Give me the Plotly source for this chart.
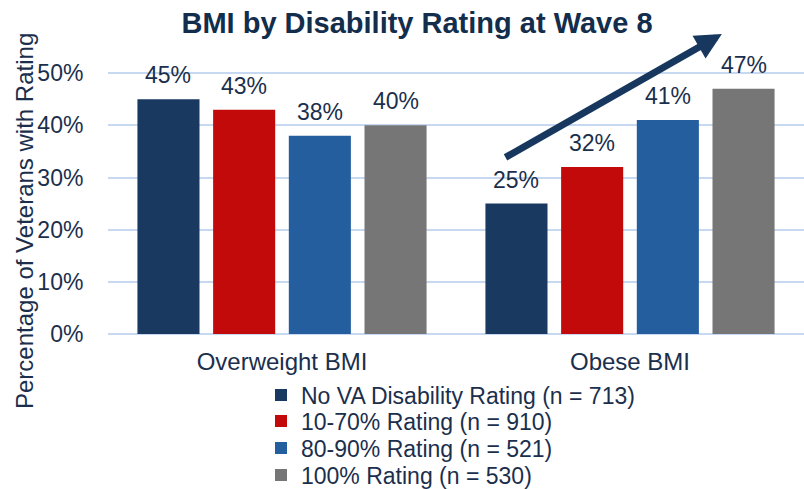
import plotly.graph_objects as go

categories = ["Overweight BMI", "Obese BMI"]
series_names = [
    "No VA Disability Rating (n = 713)",
    "10-70% Rating (n = 910)",
    "80-90% Rating (n = 521)",
    "100% Rating (n = 530)",
]
no_va = [0.45, 0.25]
r10_70 = [0.43, 0.32]
r80_90 = [0.38, 0.41]
r100 = [0.40, 0.47]
series_values = [no_va, r10_70, r80_90, r100]
colors = ["#1A3960", "#C30A0A", "#245E9E", "#767676"]
y_ticks = [0, 0.1, 0.2, 0.3, 0.4, 0.5]
y_tick_labels = ["0%", "10%", "20%", "30%", "40%", "50%"]

FONT = "Liberation Sans, Arial, sans-serif"
TXT = "#1B2F4D"

W, H = 804, 489
L, R, T, B = 108, 0, 21, 155
PW, PH = W - L - R, H - T - B
YMAX = 0.6
BARGAP, GROUPGAP = 0.13, 0.18
slot = PW / len(categories) * (1 - BARGAP) / len(series_names)


def px_to_paper_y(py):
    return (H - B - py) / PH


def px_to_paper_x(px):
    return (px - L) / PW


legend_ids = ["legend", "legend2", "legend3", "legend4"]
legend_rows_px = [395, 421, 448, 475]

fig = go.Figure()
for i, (name, vals, col) in enumerate(zip(series_names, series_values, colors)):
    fig.add_trace(go.Bar(
        x=categories, y=vals, name=name,
        marker=dict(color=col, line=dict(width=0)),
        legend=legend_ids[i],
    ))
    for c, v in zip(categories, vals):
        fig.add_annotation(
            x=c, y=v, xref="x", yref="y", text=f"{v*100:.0f}%",
            showarrow=False, yanchor="bottom", yshift=9,
            xshift=(i - 1.5) * slot,
            font=dict(size=23, color=TXT, family=FONT),
        )

# trend arrow
fig.add_annotation(
    x=1.264, y=0.575, ax=0.638, ay=0.337,
    xref="x", yref="y", axref="x", ayref="y",
    text="", showarrow=True, arrowhead=2, arrowsize=0.75,
    arrowwidth=7, arrowcolor="#17375E",
)

# y axis title
fig.add_annotation(
    x=px_to_paper_x(24), xref="paper", xanchor="center",
    y=px_to_paper_y(221), yref="paper", yanchor="middle",
    text="Percentage of Veterans with Rating", showarrow=False,
    textangle=-90, font=dict(size=24, color=TXT, family=FONT),
)

layout_legends = {}
for lid, py in zip(legend_ids, legend_rows_px):
    layout_legends[lid] = dict(
        x=px_to_paper_x(261), xanchor="left",
        y=px_to_paper_y(py), yanchor="middle",
        font=dict(size=23, color=TXT, family=FONT),
        bgcolor="rgba(0,0,0,0)", itemwidth=30,
    )

fig.update_layout(
    width=W, height=H,
    margin=dict(l=L, r=R, t=T, b=B, autoexpand=False),
    paper_bgcolor="white", plot_bgcolor="white",
    font=dict(family=FONT, color=TXT, size=23),
    title=dict(text="<b>BMI by Disability Rating at Wave 8</b>",
               x=417 / W, xanchor="center", y=1 - 23 / H, yanchor="middle",
               font=dict(size=29, color="#132D4C", family=FONT)),
    barmode="group", bargap=BARGAP, bargroupgap=GROUPGAP,
    showlegend=True,
    xaxis=dict(showline=False, ticks="outside", ticklen=6,
               tickcolor="rgba(0,0,0,0)",
               tickfont=dict(size=24, color=TXT), showgrid=False,
               automargin=False),
    yaxis=dict(range=[0, YMAX], tickvals=y_ticks, ticktext=y_tick_labels,
               showgrid=True, gridcolor="#C6D9F1", gridwidth=2,
               zeroline=True, zerolinecolor="#C6D9F1", zerolinewidth=2,
               ticks="outside", ticklen=19, tickcolor="rgba(0,0,0,0)",
               tickfont=dict(size=23, color=TXT), showline=False,
               automargin=False),
    **layout_legends,
)

fig.write_html(
    "out.html",
    config={"displayModeBar": False},
    post_script="document.body.style.margin='0';document.body.style.padding='0';",
)
